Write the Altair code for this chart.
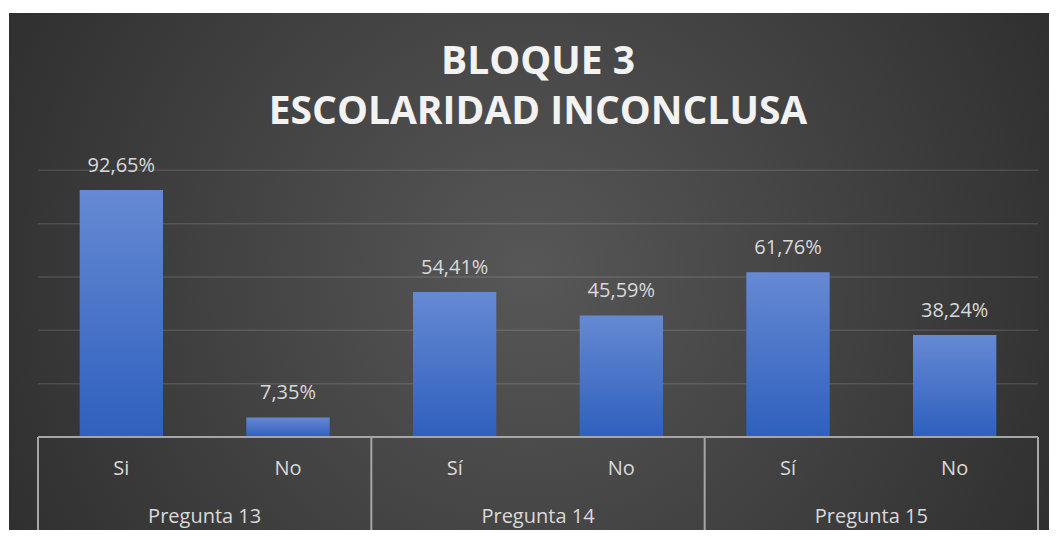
import altair as alt
import pandas as pd

# ---- data ----
groups = ["Pregunta 13", "Pregunta 14", "Pregunta 15"]
answers = ["Si", "No", "Sí", "No", "Sí", "No"]
answer_group = ["Pregunta 13", "Pregunta 13", "Pregunta 14", "Pregunta 14", "Pregunta 15", "Pregunta 15"]
values = [92.65, 7.35, 54.41, 45.59, 61.76, 38.24]
grid_values = [20, 40, 60, 80, 100]
title_lines = ["BLOQUE 3", "ESCOLARIDAD INCONCLUSA"]

W, H = 1000, 266.7
FONT = "Open Sans"
TXT = "#d9d9d9"

df = pd.DataFrame({
    "pregunta": answer_group,
    "respuesta": answers,
    "valor": values,
    "idx": list(range(len(values))),
})
df["etiqueta"] = [f"{v:.2f}%".replace(".", ",") for v in values]

xscale = alt.Scale(domain=[0, 2 * len(groups)], nice=False, zero=False)
yscale = alt.Scale(domain=[0, 100], nice=False)

# background panel with radial gradient
bg = alt.Chart(alt.Data(values=[{"k": 1}])).mark_rect(
    fill=alt.Gradient(
        gradient="radial",
        stops=[alt.GradientStop(color="#575757", offset=0),
               alt.GradientStop(color="#242424", offset=1)],
        x1=0.5, y1=0.5, r1=0, x2=0.5, y2=0.5, r2=0.72,
    )
).encode(
    x=alt.value(-29), x2=alt.value(1012),
    y=alt.value(-157.3), y2=alt.value(360),
)

grid = alt.Chart(pd.DataFrame({"g": grid_values})).mark_rule(
    color="#ffffff", opacity=0.12, strokeWidth=1.5
).encode(
    y=alt.Y("g:Q", scale=yscale, axis=None),
    x=alt.value(0), x2=alt.value(W),
)

base = alt.Chart(df).transform_calculate(
    xs="datum.idx + 0.25", xe="datum.idx + 0.75", xc="datum.idx + 0.5"
)

bars = base.mark_bar(
    color=alt.Gradient(
        gradient="linear",
        stops=[alt.GradientStop(color="#6689d3", offset=0),
               alt.GradientStop(color="#2e60be", offset=1)],
        x1=0, x2=0, y1=0, y2=1,
    )
).encode(
    x=alt.X("xs:Q", scale=xscale, axis=None),
    x2="xe:Q",
    y=alt.Y("valor:Q", scale=yscale, axis=None),
    y2=alt.datum(0),
)

labels = base.mark_text(
    font=FONT, fontSize=20, color=TXT, baseline="alphabetic", align="center", dy=-18
).encode(
    x=alt.X("xc:Q", scale=xscale),
    y=alt.Y("valor:Q", scale=yscale),
    text="etiqueta:N",
)

baseline = alt.Chart(alt.Data(values=[{"k": 1}])).mark_rule(
    color="#a6a6a6", strokeWidth=2
).encode(
    x=alt.datum(0, scale=xscale), x2=alt.datum(2 * len(groups)),
    y=alt.datum(0, scale=yscale),
)

dividers = alt.Chart(pd.DataFrame({"d": [2 * i for i in range(len(groups) + 1)]})).mark_rule(
    color="#a6a6a6", strokeWidth=2
).encode(
    x=alt.X("d:Q", scale=xscale),
    y=alt.value(H), y2=alt.value(H + 93),
)

sub_labels = base.mark_text(
    font=FONT, fontSize=20, color=TXT, baseline="middle", align="center"
).encode(
    x=alt.X("xc:Q", scale=xscale),
    y=alt.value(H + 32),
    text="respuesta:N",
)

gdf = pd.DataFrame({"pregunta": groups, "gi": list(range(len(groups)))})
group_labels = alt.Chart(gdf).transform_calculate(gc="2 * datum.gi + 1").mark_text(
    font=FONT, fontSize=20, color=TXT, baseline="middle", align="center"
).encode(
    x=alt.X("gc:Q", scale=xscale),
    y=alt.value(H + 79.5),
    text="pregunta:N",
)

title1 = alt.Chart(alt.Data(values=[{"t": title_lines[0]}])).mark_text(
    font=FONT, fontSize=39, fontWeight="bold", color="#f2f2f2",
    baseline="middle", align="center"
).encode(x=alt.value(W / 2), y=alt.value(-108), text="t:N")

title2 = alt.Chart(alt.Data(values=[{"t": title_lines[1]}])).mark_text(
    font=FONT, fontSize=39, fontWeight="bold", color="#f2f2f2",
    baseline="middle", align="center"
).encode(x=alt.value(W / 2), y=alt.value(-58), text="t:N")

chart = alt.layer(
    bg, grid, bars, labels, baseline, dividers, sub_labels, group_labels, title1, title2
).properties(
    width=W, height=H,
    autosize=alt.AutoSizeParams(type="none"),
    padding={"left": 30, "top": 162.3, "right": 11, "bottom": 93},
    background="white",
).configure_view(stroke=None)

chart.save("out.html", embed_options={"renderer": "svg", "actions": False})
